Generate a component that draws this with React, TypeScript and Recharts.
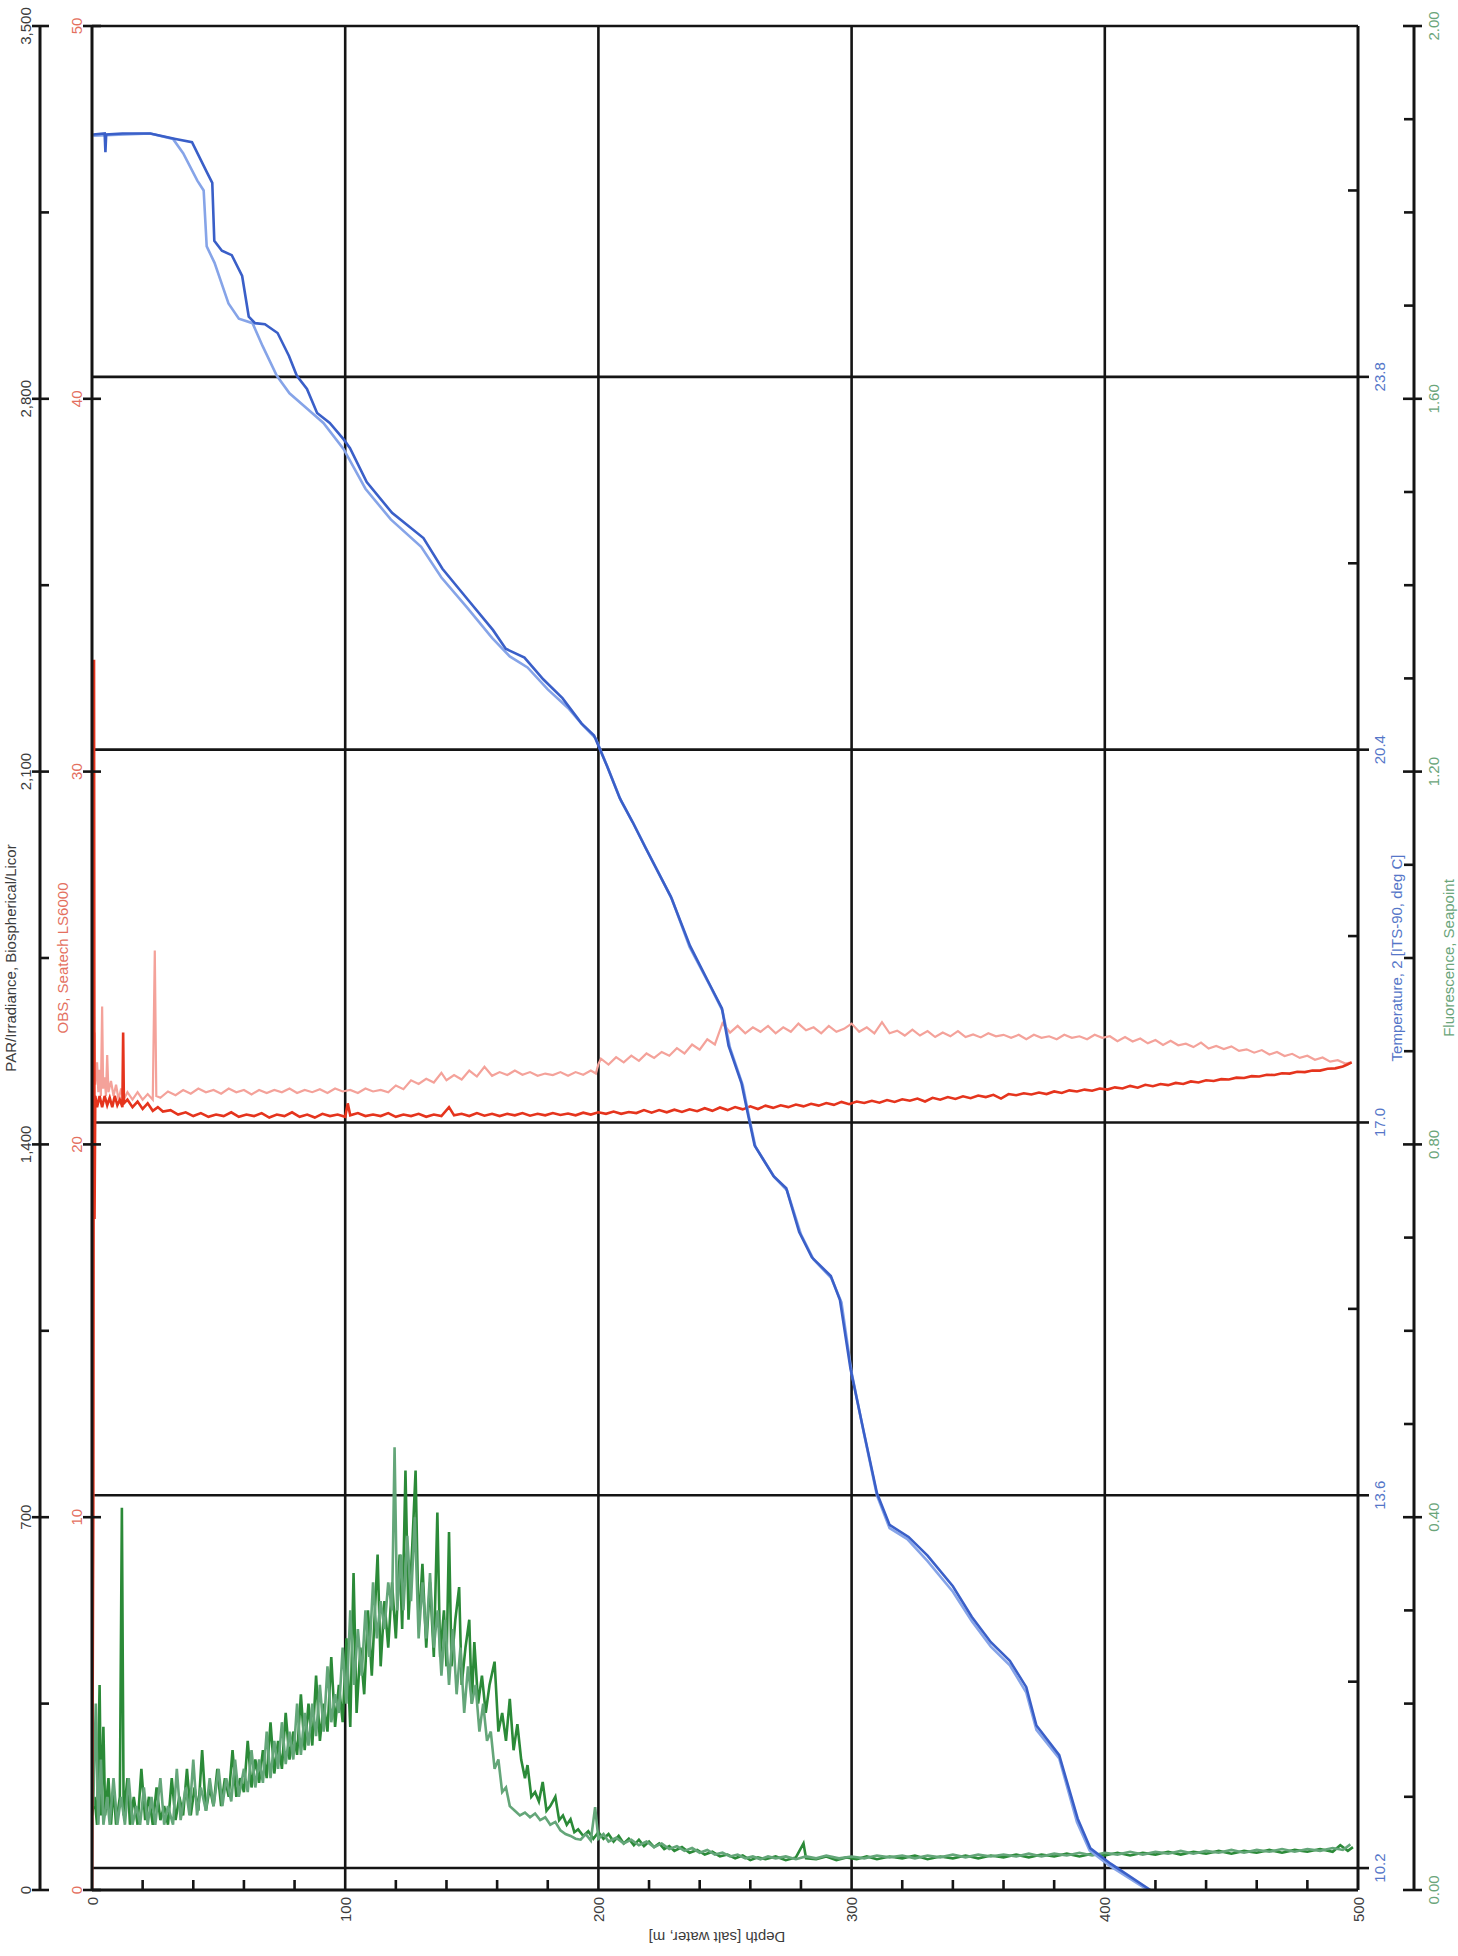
import React from 'react';
import { CartesianGrid, Line, LineChart, XAxis, YAxis } from 'recharts';

const font = "'Liberation Sans', Arial, Helvetica, sans-serif";
const ink = '#141414';

// axis ticks
const depthTicks = [0, 20, 40, 60, 80, 100, 120, 140, 160, 180, 200, 220, 240, 260, 280, 300, 320, 340, 360, 380, 400, 420, 440, 460, 480, 500];
const depthGrid = [100, 200, 300, 400];
const parTicks = [0, 350, 700, 1050, 1400, 1750, 2100, 2450, 2800, 3150, 3500];
const obsTicks = [0, 10, 20, 30, 40, 50];
const tempTicks = [10.2, 11.9, 13.6, 15.3, 17.0, 18.7, 20.4, 22.1, 23.8, 25.5];
const tempGrid = [10.2, 13.6, 17.0, 20.4, 23.8, 27.0];
const fluorTicks = [0, 0.1, 0.2, 0.3, 0.4, 0.5, 0.6, 0.7, 0.8, 0.9, 1.0, 1.1, 1.2, 1.3, 1.4, 1.5, 1.6, 1.7, 1.8, 1.9, 2.0];

// [depth m, temperature deg C]
const tempDown: [number, number][] = [
  [0.5, 26.01], [5, 26.02], [5.3, 25.85], [5.6, 26.01], [12, 26.02], [23, 26.02], [33, 25.97], [39.5, 25.94],
  [45.5, 25.66], [47.5, 25.57], [48.3, 25.04], [51.3, 24.95], [55.2, 24.91], [59.3, 24.72], [61.9, 24.35],
  [64.4, 24.29], [68.3, 24.28], [73.3, 24.2], [77.8, 23.99], [80.9, 23.81], [84.9, 23.69], [88.9, 23.47],
  [93.9, 23.38], [99.4, 23.23], [101.9, 23.15], [108.5, 22.84], [118.5, 22.56], [130.9, 22.33], [138.4, 22.05],
  [148.4, 21.77], [158.4, 21.49], [163.4, 21.32], [170.8, 21.24], [178.3, 21.04], [185.8, 20.87], [193.3, 20.64],
  [198.3, 20.53], [203.4, 20.25], [208.4, 19.96], [213.5, 19.74], [218.5, 19.51], [228.6, 19.06], [236.2, 18.61],
  [243.7, 18.27], [248.8, 18.04], [251.4, 17.7], [256.5, 17.36], [259.1, 17.07], [261.7, 16.79], [269.2, 16.51],
  [274.2, 16.4], [279.3, 16.0], [284.3, 15.77], [291.8, 15.6], [295.4, 15.38], [299.6, 14.75], [304.8, 14.18],
  [310, 13.62], [315, 13.33], [322.5, 13.22], [330, 13.05], [340, 12.77], [347.5, 12.49], [355, 12.26],
  [362.5, 12.09], [369, 11.85], [373, 11.5], [382, 11.23], [389.3, 10.65], [394.3, 10.38], [402.3, 10.24], [418, 10.0],
];
const tempUp: [number, number][] = [
  [0.5, 26.0], [23, 26.02], [32, 25.97], [36, 25.84], [41.6, 25.59], [44.1, 25.5], [45.3, 24.99], [48.4, 24.84],
  [53.9, 24.47], [58, 24.33], [63.4, 24.29], [67.4, 24.08], [73, 23.81], [78, 23.65], [85, 23.51], [91.4, 23.38],
  [99.4, 23.14], [108, 22.78], [118, 22.5], [130, 22.25], [138, 21.97], [148, 21.7], [158, 21.42], [165, 21.25],
  [172, 21.15], [180, 20.95], [188, 20.78], [194, 20.62], [199, 20.5], [204, 20.22], [209, 19.93], [214, 19.72],
  [219, 19.49], [229, 19.04], [236, 18.6], [244, 18.25], [249, 18.02], [252, 17.68], [257, 17.34], [259.5, 17.05],
  [262, 16.78], [269.5, 16.5], [274.5, 16.38], [280, 15.98], [285, 15.75], [292, 15.58], [296, 15.36], [300, 14.72],
  [305, 14.15], [310, 13.6], [315, 13.3], [322, 13.2], [330, 13.0], [340, 12.72], [347.5, 12.45], [355, 12.22],
  [362.5, 12.05], [369, 11.8], [373, 11.46], [382, 11.2], [389, 10.62], [394, 10.36], [402, 10.22], [417, 10.0],
];

// [depth m, OBS]
const obsDown: [number, number][] = [
  [0, 0], [0.5, 10], [0.8, 33], [1.0, 18], [1.3, 21.3], [2, 21.0], [3, 21.3], [4, 21.0], [5, 21.3], [6, 21.05],
  [7, 21.25], [8, 21.0], [9, 21.3], [10, 21.05], [11, 21.2], [12, 21.0], [12.3, 23.0], [12.6, 21.1], [14, 21.2],
  [16, 21.0], [18, 21.15], [20, 20.95], [22, 21.1], [24, 20.9], [26, 21.0], [28, 20.88], [31, 20.92], [34, 20.8],
  [37, 20.86], [40, 20.76], [43, 20.84], [46, 20.74], [49, 20.8], [52, 20.76], [55, 20.86], [58, 20.74], [61, 20.8],
  [64, 20.76], [67, 20.84], [70, 20.72], [73, 20.8], [76, 20.76], [79, 20.86], [82, 20.74], [85, 20.8], [88, 20.72],
  [91, 20.82], [94, 20.76], [97, 20.8], [100, 20.74], [101, 21.1], [102, 20.78], [105, 20.84], [108, 20.76],
  [111, 20.8], [114, 20.76], [117, 20.84], [120, 20.74], [123, 20.8], [126, 20.76], [129, 20.82], [132, 20.74],
  [135, 20.8], [138, 20.76], [141, 21.0], [143, 20.78], [146, 20.82], [149, 20.76], [152, 20.84], [155, 20.77],
  [158, 20.82], [161, 20.76], [164, 20.82], [167, 20.78], [170, 20.84], [173, 20.77], [176, 20.82], [179, 20.78],
  [182, 20.84], [185, 20.79], [188, 20.83], [191, 20.78], [194, 20.85], [197, 20.8], [200, 20.86], [203, 20.82],
  [206, 20.88], [209, 20.82], [212, 20.87], [215, 20.84], [218, 20.92], [221, 20.85], [224, 20.92], [227, 20.86],
  [230, 20.93], [233, 20.87], [236, 20.94], [239, 20.89], [242, 20.97], [245, 20.9], [248, 20.99], [251, 20.92],
  [254, 21.0], [257, 20.94], [260, 21.02], [263, 20.95], [266, 21.04], [269, 20.98], [272, 21.05], [275, 21.0],
  [278, 21.07], [281, 21.02], [284, 21.09], [287, 21.04], [290, 21.11], [293, 21.06], [296, 21.14], [299, 21.08],
  [302, 21.15], [305, 21.11], [308, 21.17], [311, 21.12], [314, 21.19], [317, 21.14], [320, 21.21], [323, 21.17],
  [326, 21.23], [329, 21.15], [332, 21.25], [335, 21.2], [338, 21.27], [341, 21.22], [344, 21.29], [347, 21.24],
  [350, 21.31], [353, 21.27], [356, 21.33], [359, 21.23], [362, 21.35], [365, 21.32], [368, 21.37], [371, 21.34],
  [374, 21.39], [377, 21.35], [380, 21.42], [383, 21.38], [386, 21.45], [389, 21.42], [392, 21.47], [395, 21.44],
  [398, 21.5], [401, 21.47], [404, 21.53], [407, 21.5], [410, 21.57], [413, 21.52], [416, 21.6], [419, 21.56],
  [422, 21.62], [425, 21.59], [428, 21.65], [431, 21.62], [434, 21.69], [437, 21.66], [440, 21.72], [443, 21.7],
  [446, 21.75], [449, 21.74], [452, 21.79], [455, 21.78], [458, 21.83], [461, 21.82], [464, 21.87], [467, 21.86],
  [470, 21.91], [473, 21.9], [476, 21.95], [479, 21.94], [482, 21.98], [485, 21.98], [488, 22.03], [491, 22.04],
  [494, 22.09], [496, 22.15], [497.5, 22.2],
];
const obsUp: [number, number][] = [
  [0, 0], [0.4, 9], [0.7, 21.5], [1.0, 23.0], [1.3, 21.6], [2, 22.2], [2.5, 21.4], [3, 22.0], [3.5, 21.3],
  [4.0, 23.7], [4.4, 21.5], [5, 21.8], [5.5, 21.3], [6, 22.4], [6.5, 21.4], [7.5, 21.7], [8.5, 21.3], [9.5, 21.6],
  [10.5, 21.2], [11.5, 21.5], [12.5, 21.2], [14, 21.4], [16, 21.2], [18, 21.4], [20, 21.2], [22, 21.35], [24, 21.2],
  [24.8, 25.2], [25.4, 21.3], [27, 21.25], [30, 21.42], [33, 21.32], [36, 21.46], [39, 21.36], [42, 21.5],
  [45, 21.4], [48, 21.46], [51, 21.36], [54, 21.5], [57, 21.4], [60, 21.46], [63, 21.34], [66, 21.46], [69, 21.38],
  [72, 21.46], [75, 21.4], [78, 21.5], [81, 21.38], [84, 21.46], [87, 21.4], [90, 21.48], [93, 21.38], [96, 21.5],
  [99, 21.42], [102, 21.46], [105, 21.38], [108, 21.5], [111, 21.42], [114, 21.46], [117, 21.4], [120, 21.58],
  [123, 21.48], [126, 21.72], [129, 21.62], [132, 21.76], [135, 21.66], [138, 21.92], [140, 21.72], [143, 21.86],
  [146, 21.74], [149, 21.98], [152, 21.82], [155, 22.08], [158, 21.84], [161, 21.94], [164, 21.86], [167, 21.98],
  [170, 21.87], [173, 21.94], [176, 21.84], [179, 21.9], [182, 21.86], [185, 21.94], [188, 21.84], [191, 21.94],
  [194, 21.87], [197, 21.98], [199, 21.9], [200, 22.15], [201, 22.3], [204, 22.14], [207, 22.34], [210, 22.2],
  [213, 22.38], [216, 22.24], [219, 22.44], [222, 22.32], [225, 22.48], [228, 22.38], [231, 22.58], [234, 22.44],
  [237, 22.68], [240, 22.54], [243, 22.82], [246, 22.68], [249, 23.25], [252, 23.0], [255, 23.18], [258, 22.98],
  [261, 23.14], [264, 23.02], [267, 23.18], [270, 22.98], [273, 23.14], [276, 23.02], [279, 23.24], [282, 23.06],
  [285, 23.14], [288, 22.98], [291, 23.18], [294, 23.02], [297, 23.1], [300, 23.24], [303, 23.02], [306, 23.14],
  [309, 22.98], [312, 23.28], [315, 22.98], [318, 23.05], [321, 22.92], [324, 23.08], [327, 22.92], [330, 23.04],
  [333, 22.88], [336, 23.0], [339, 22.9], [342, 23.04], [345, 22.88], [348, 22.95], [351, 22.87], [354, 22.98],
  [357, 22.9], [360, 22.94], [363, 22.86], [366, 22.94], [369, 22.82], [372, 22.94], [375, 22.86], [378, 22.9],
  [381, 22.82], [384, 22.94], [387, 22.86], [390, 22.9], [393, 22.82], [396, 22.94], [399, 22.86], [402, 22.9],
  [405, 22.77], [408, 22.88], [411, 22.76], [414, 22.84], [417, 22.71], [420, 22.8], [423, 22.67], [426, 22.78],
  [429, 22.66], [432, 22.7], [435, 22.61], [438, 22.73], [441, 22.57], [444, 22.64], [447, 22.56], [450, 22.63],
  [453, 22.51], [456, 22.55], [459, 22.46], [462, 22.53], [465, 22.41], [468, 22.48], [471, 22.37], [474, 22.43],
  [477, 22.32], [480, 22.38], [483, 22.27], [486, 22.33], [489, 22.22], [492, 22.26], [495, 22.17], [497.5, 22.2],
];

// [depth m, fluorescence]
const fluorDown: [number, number][] = [
  [0, 0.08], [1, 0.1], [2, 0.07], [3, 0.22], [3.6, 0.08], [4.5, 0.175], [5.2, 0.08], [6.5, 0.12], [7.5, 0.07],
  [8.5, 0.11], [9.5, 0.07], [11, 0.1], [11.8, 0.41], [12.5, 0.08], [14, 0.12], [15, 0.07], [16.5, 0.1], [18, 0.07],
  [19.5, 0.13], [21, 0.075], [22.5, 0.1], [24, 0.07], [25.5, 0.11], [27, 0.075], [28.5, 0.09], [30, 0.07],
  [31.5, 0.12], [33, 0.075], [34.5, 0.1], [36, 0.08], [37.5, 0.13], [39, 0.08], [40.5, 0.11], [42, 0.085],
  [43.5, 0.15], [45, 0.085], [46.5, 0.11], [48, 0.09], [49.5, 0.13], [51, 0.09], [52.5, 0.12], [54, 0.1],
  [55.5, 0.15], [57, 0.1], [58.5, 0.12], [60, 0.105], [61.5, 0.16], [63, 0.11], [64.5, 0.14], [66, 0.115],
  [67.5, 0.15], [69, 0.12], [70.5, 0.18], [72, 0.125], [73.5, 0.16], [75, 0.13], [76.5, 0.19], [78, 0.14],
  [79.5, 0.17], [81, 0.145], [82.5, 0.21], [84, 0.15], [85.5, 0.2], [87, 0.155], [88.5, 0.23], [90, 0.16],
  [91.5, 0.2], [93, 0.17], [94.5, 0.25], [96, 0.175], [97.5, 0.22], [99, 0.18], [100.5, 0.27], [102, 0.175],
  [103.3, 0.34], [104.5, 0.19], [106, 0.26], [107.5, 0.21], [109, 0.3], [110.5, 0.23], [112.8, 0.36], [114, 0.24],
  [115.5, 0.31], [117, 0.26], [118.5, 0.33], [120, 0.27], [121.5, 0.36], [122.5, 0.28], [123.8, 0.45], [125, 0.29],
  [126.5, 0.37], [127.8, 0.45], [129, 0.28], [130.5, 0.35], [132, 0.26], [133.5, 0.33], [135, 0.25], [136.4, 0.405],
  [137.5, 0.25], [139, 0.3], [140, 0.24], [141, 0.384], [142, 0.24], [143.5, 0.29], [145, 0.325], [146, 0.22],
  [147.5, 0.26], [149, 0.29], [150, 0.2], [151, 0.266], [152.5, 0.2], [154, 0.23], [155.5, 0.19], [157, 0.22],
  [159, 0.245], [160.5, 0.17], [162, 0.19], [163.5, 0.16], [165, 0.205], [166.5, 0.15], [168, 0.178], [169.5, 0.14],
  [171, 0.12], [172, 0.134], [173.5, 0.1], [175, 0.105], [176.5, 0.095], [178, 0.116], [179.5, 0.085], [181, 0.09],
  [183, 0.1], [184.5, 0.075], [186, 0.08], [187.5, 0.07], [189, 0.076], [190.5, 0.062], [192, 0.065], [194, 0.058],
  [196, 0.063], [198, 0.055], [200, 0.062], [202, 0.055], [204, 0.06], [206, 0.052], [208, 0.058], [210, 0.05],
  [212, 0.055], [214, 0.048], [216, 0.054], [218, 0.047], [220, 0.052], [222, 0.046], [224, 0.05], [226, 0.044],
  [228, 0.047], [230, 0.042], [233, 0.046], [236, 0.04], [239, 0.043], [242, 0.038], [245, 0.041], [248, 0.036],
  [251, 0.038], [254, 0.034], [257, 0.037], [260, 0.032], [263, 0.035], [266, 0.033], [270, 0.036], [274, 0.032],
  [278, 0.035], [281, 0.05], [282, 0.034], [286, 0.033], [290, 0.036], [294, 0.032], [298, 0.035], [302, 0.033],
  [306, 0.036], [310, 0.033], [315, 0.036], [320, 0.034], [325, 0.037], [330, 0.033], [335, 0.036], [340, 0.034],
  [345, 0.037], [350, 0.034], [355, 0.037], [360, 0.035], [365, 0.038], [370, 0.035], [375, 0.038], [380, 0.036],
  [385, 0.039], [390, 0.036], [395, 0.039], [400, 0.037], [405, 0.04], [410, 0.037], [415, 0.04], [420, 0.038],
  [425, 0.041], [430, 0.038], [435, 0.041], [440, 0.039], [445, 0.042], [450, 0.039], [455, 0.042], [460, 0.04],
  [465, 0.043], [470, 0.04], [475, 0.043], [480, 0.041], [485, 0.044], [490, 0.041], [493, 0.048], [496, 0.042],
  [498, 0.046],
];
const fluorUp: [number, number][] = [
  [0.5, 0.09], [1.5, 0.2], [2.5, 0.07], [3.5, 0.14], [4.5, 0.07], [6, 0.1], [7, 0.07], [8.5, 0.12], [10, 0.07],
  [11.5, 0.1], [13, 0.07], [14.5, 0.12], [16, 0.07], [17.5, 0.09], [19, 0.07], [20.5, 0.11], [22, 0.07], [23.5, 0.1],
  [25, 0.07], [27, 0.12], [28.5, 0.07], [30, 0.09], [32, 0.07], [33.5, 0.13], [35, 0.075], [37, 0.11], [38.5, 0.08],
  [40, 0.14], [41.5, 0.08], [43, 0.11], [45, 0.085], [46.5, 0.12], [48, 0.09], [50, 0.13], [51.5, 0.09], [53, 0.12],
  [55, 0.095], [56.5, 0.14], [58, 0.1], [60, 0.13], [61.5, 0.105], [63, 0.15], [64.5, 0.11], [66, 0.14],
  [67.5, 0.115], [69, 0.17], [70.5, 0.12], [72, 0.16], [73.5, 0.13], [75, 0.18], [76.5, 0.135], [78, 0.17],
  [79.5, 0.14], [81, 0.2], [82.5, 0.145], [84, 0.19], [85.5, 0.155], [87, 0.2], [88.5, 0.165], [90, 0.22],
  [91.5, 0.17], [93, 0.24], [94.5, 0.18], [96, 0.21], [97.5, 0.19], [99, 0.26], [100.5, 0.2], [102, 0.3],
  [103.5, 0.22], [105, 0.28], [106.5, 0.23], [108, 0.3], [109.5, 0.25], [111, 0.33], [112.5, 0.27], [114, 0.31],
  [115.5, 0.28], [117, 0.33], [118.5, 0.3], [119.5, 0.475], [120.5, 0.3], [122, 0.36], [123, 0.3], [124.5, 0.38],
  [126, 0.31], [127.5, 0.4], [129, 0.27], [130.5, 0.33], [132, 0.27], [133.5, 0.34], [135, 0.26], [136.5, 0.3],
  [138, 0.23], [139.5, 0.29], [141, 0.22], [142.5, 0.28], [144, 0.21], [145.5, 0.26], [147, 0.19], [148.5, 0.24],
  [150, 0.2], [151.5, 0.22], [153, 0.17], [154.5, 0.2], [156, 0.16], [157.5, 0.17], [159, 0.13], [160.5, 0.14],
  [162, 0.105], [163.5, 0.11], [165, 0.09], [167, 0.085], [169, 0.08], [171, 0.083], [173, 0.078], [175, 0.082],
  [177, 0.075], [179, 0.078], [181, 0.07], [183, 0.073], [185, 0.064], [187, 0.06], [189, 0.058], [191, 0.055],
  [193, 0.054], [195, 0.06], [197, 0.053], [198.7, 0.089], [200, 0.055], [202, 0.06], [204, 0.052], [207, 0.056],
  [210, 0.05], [213, 0.054], [216, 0.048], [219, 0.052], [222, 0.046], [225, 0.05], [228, 0.044], [231, 0.047],
  [234, 0.042], [237, 0.045], [240, 0.04], [243, 0.043], [246, 0.038], [249, 0.04], [252, 0.036], [255, 0.038],
  [258, 0.034], [261, 0.036], [264, 0.033], [267, 0.036], [270, 0.034], [274, 0.036], [278, 0.033], [282, 0.036],
  [286, 0.034], [290, 0.037], [295, 0.034], [300, 0.036], [305, 0.034], [310, 0.037], [315, 0.035], [320, 0.037],
  [325, 0.034], [330, 0.037], [335, 0.035], [340, 0.038], [345, 0.035], [350, 0.038], [355, 0.036], [360, 0.038],
  [365, 0.036], [370, 0.039], [375, 0.036], [380, 0.039], [385, 0.037], [390, 0.04], [395, 0.037], [400, 0.04],
  [405, 0.038], [410, 0.041], [415, 0.038], [420, 0.041], [425, 0.039], [430, 0.042], [435, 0.039], [440, 0.042],
  [445, 0.04], [450, 0.043], [455, 0.04], [460, 0.043], [465, 0.041], [470, 0.044], [475, 0.041], [480, 0.044],
  [485, 0.042], [490, 0.045], [494, 0.043], [497, 0.049],
];

const rows = (pts: [number, number][]) => pts.map(([depth, v]) => ({ depth, v }));

const colors = {
  par: '#3c3c3c',
  obs: '#e4705f',
  temp: '#5576c8',
  fluor: '#6aa57a',
  tempDown: '#3a5fc8',
  tempUp: '#86a4e8',
  obsDown: '#e5341d',
  obsUp: '#f4a29a',
  fluorDown: '#2b8a38',
  fluorUp: '#64a679',
};

const rotText = (x: number, y: number, text: string, color: string, anchor = 'middle', angle = -90) => (
  <text
    transform={`translate(${x},${y}) rotate(${angle})`}
    textAnchor={anchor}
    dominantBaseline="central"
    fontFamily={font}
    fontSize={15}
    fill={color}
  >
    {text}
  </text>
);

const DepthTick = (p: any) => {
  const v = p.payload.value;
  if (v % 100 === 0) return <g>{rotText(p.x, p.y + 7, String(v), colors.par, 'end')}</g>;
  return <line x1={p.x} x2={p.x} y1={p.y} y2={p.y - 10} stroke={ink} strokeWidth={2.6} />;
};

const ParTick = (p: any) => {
  const v = p.payload.value;
  const major = v % 700 === 0;
  return (
    <g>
      <line x1={major ? p.x - 8 : p.x} x2={p.x + 9} y1={p.y} y2={p.y} stroke={ink} strokeWidth={2.6} />
      {major && rotText(p.x - 15, p.y, v.toLocaleString('en-US'), colors.par)}
    </g>
  );
};

const ObsTick = (p: any) => {
  const v = p.payload.value;
  return (
    <g>
      <line x1={p.x - 9} x2={p.x + 9} y1={p.y} y2={p.y} stroke={ink} strokeWidth={2.6} />
      {rotText(p.x - 16, p.y, String(v), colors.obs)}
    </g>
  );
};

const TempTick = (p: any) => {
  const v = p.payload.value;
  const major = Math.round((v - 10.2) / 1.7) % 2 === 0;
  if (!major) return <line x1={p.x - 10} x2={p.x} y1={p.y} y2={p.y} stroke={ink} strokeWidth={2.6} />;
  return (
    <g>
      <line x1={p.x} x2={p.x + 11} y1={p.y} y2={p.y} stroke={ink} strokeWidth={2.6} />
      {rotText(p.x + 21, p.y, v.toFixed(1), colors.temp)}
    </g>
  );
};

const FluorTick = (p: any) => {
  const v = p.payload.value;
  const major = Math.round(v * 10) % 4 === 0;
  if (!major) return <line x1={p.x - 10} x2={p.x} y1={p.y} y2={p.y} stroke={ink} strokeWidth={2.6} />;
  return (
    <g>
      <line x1={p.x - 11} x2={p.x + 8} y1={p.y} y2={p.y} stroke={ink} strokeWidth={2.6} />
      {rotText(p.x + 19, p.y, v.toFixed(2), colors.fluor)}
    </g>
  );
};

const sideTitle = (text: string, dx: number, color: string) => (props: any) => {
  const vb = props.viewBox;
  return rotText(vb.x + dx, vb.y + vb.height / 2, text, color);
};

const depthTitle = (props: any) => {
  const vb = props.viewBox;
  return rotText(vb.x + vb.width / 2 - 8, vb.y + 47, 'Depth [salt water, m]', colors.par, 'middle', 180);
};

export default function App() {
  return (
    <div style={{ position: 'absolute', left: 0, top: 0, background: '#fff' }}>
      <LineChart width={1458} height={1956} margin={{ top: 26, right: 0, bottom: 0, left: 0 }}>
        <CartesianGrid
          yAxisId="r1temp"
          horizontalValues={tempGrid}
          verticalValues={depthGrid}
          stroke={ink}
          strokeWidth={2.6}
          strokeOpacity={1}
        />
        <XAxis
          type="number"
          dataKey="depth"
          domain={[0, 500]}
          allowDataOverflow
          ticks={depthTicks}
          interval={0}
          height={66}
          tickSize={0}
          tickMargin={0}
          tickLine={false}
          axisLine={{ stroke: ink, strokeWidth: 3 }}
          tick={DepthTick}
          label={{ content: depthTitle }}
        />
        <YAxis
          yAxisId="l1obs"
          orientation="left"
          width={52}
          type="number"
          domain={[0, 50]}
          allowDataOverflow
          ticks={obsTicks}
          interval={0}
          tickSize={0}
          tickMargin={0}
          tickLine={false}
          axisLine={{ stroke: ink, strokeWidth: 3 }}
          tick={ObsTick}
          label={{ content: sideTitle('OBS, Seatech LS6000', 22, colors.obs) }}
        />
        <YAxis
          yAxisId="l2par"
          orientation="left"
          width={40}
          type="number"
          domain={[0, 3500]}
          allowDataOverflow
          ticks={parTicks}
          interval={0}
          tickSize={0}
          tickMargin={0}
          tickLine={false}
          axisLine={{ stroke: ink, strokeWidth: 3 }}
          tick={ParTick}
          label={{ content: sideTitle('PAR/Irradiance, Biospherical/Licor', 10, colors.par) }}
        />
        <YAxis
          yAxisId="r1temp"
          orientation="right"
          width={56}
          type="number"
          domain={[10.0, 27.0]}
          allowDataOverflow
          ticks={tempTicks}
          interval={0}
          tickSize={0}
          tickMargin={0}
          tickLine={false}
          axisLine={{ stroke: ink, strokeWidth: 3 }}
          tick={TempTick}
          label={{ content: sideTitle('Temperature, 2 [ITS-90, deg C]', 38, colors.temp) }}
        />
        <YAxis
          yAxisId="r2fluor"
          orientation="right"
          width={44}
          type="number"
          domain={[0, 2]}
          allowDataOverflow
          ticks={fluorTicks}
          interval={0}
          tickSize={0}
          tickMargin={0}
          tickLine={false}
          axisLine={{ stroke: ink, strokeWidth: 3 }}
          tick={FluorTick}
          label={{ content: sideTitle('Fluorescence, Seapoint', 34, colors.fluor) }}
        />
        <Line yAxisId="r2fluor" data={rows(fluorDown)} dataKey="v" type="linear" dot={false} stroke={colors.fluorDown} strokeWidth={2.6} isAnimationActive={false} />
        <Line yAxisId="r2fluor" data={rows(fluorUp)} dataKey="v" type="linear" dot={false} stroke={colors.fluorUp} strokeWidth={2.6} isAnimationActive={false} />
        <Line yAxisId="l1obs" data={rows(obsUp)} dataKey="v" type="linear" dot={false} stroke={colors.obsUp} strokeWidth={2.2} isAnimationActive={false} />
        <Line yAxisId="l1obs" data={rows(obsDown)} dataKey="v" type="linear" dot={false} stroke={colors.obsDown} strokeWidth={2.6} isAnimationActive={false} />
        <Line yAxisId="r1temp" data={rows(tempUp)} dataKey="v" type="linear" dot={false} stroke={colors.tempUp} strokeWidth={2.6} isAnimationActive={false} />
        <Line yAxisId="r1temp" data={rows(tempDown)} dataKey="v" type="linear" dot={false} stroke={colors.tempDown} strokeWidth={2.6} isAnimationActive={false} />
      </LineChart>
    </div>
  );
}
